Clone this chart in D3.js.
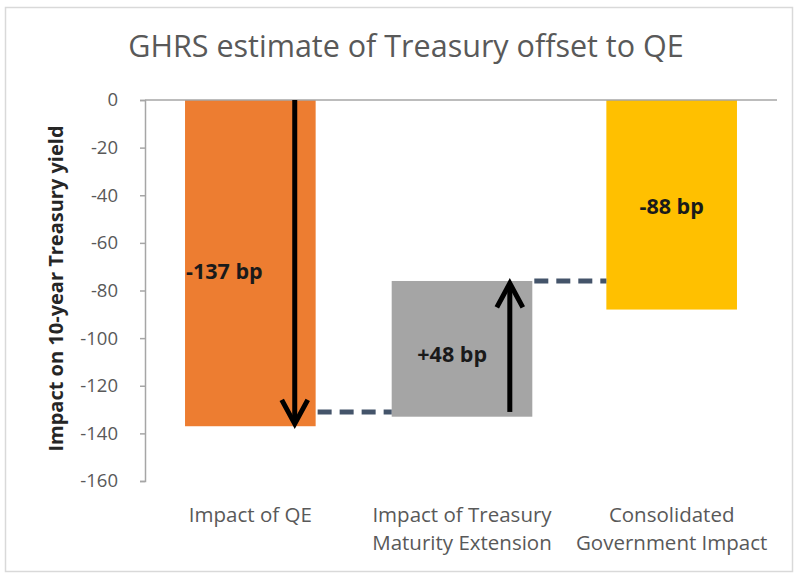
<!DOCTYPE html>
<meta charset="utf-8">
<script src="https://d3js.org/d3.v7.min.js"></script>
<style>
	body{
		margin:0;
		background:#fff;
		font-family: 'Open Sans', sans-serif;
	}
</style>
<div id="chart"></div>
<script>

	// categories and values (bp)
	var categories = ["Impact of QE","Impact of Treasury|Maturity Extension","Consolidated|Government Impact"]
	var barStart = [0,-133,0]
	var barEnd = [-137,-76,-88]
	var barLabels = ["-137 bp","+48 bp","-88 bp"]
	var labelValues = [-75,-110,-48]
	var barColors = ["#ED7D31","#A5A5A5","#FFC000"]
	var yTicks = [0,-20,-40,-60,-80,-100,-120,-140,-160]
	// connectors: [from category, to category, value]
	var connectors = [[0,1,-131],[1,2,-76]]
	// arrows: [category, from, to]
	var arrows = [[0,0,-136],[1,-131,-77]]

	var w = 796
	var h = 576
	var margin = {left:145, right:19, top:100, bottom:95}

	var svg = d3.select("#chart").append("svg").attr("width",w).attr("height",h)

	// outer frame
	svg.append("rect").attr("x",5.5).attr("y",7.5).attr("width",w-9).attr("height",h-12)
		.attr("fill","#fff").attr("stroke","#d9d9d9").attr("stroke-width",1.5)

	svg.append("text").text("GHRS estimate of Treasury offset to QE")
		.attr("x",406).attr("y",57).attr("text-anchor","middle")
		.attr("fill","#595959").style("font-size","30.5px")

	var x = d3.scaleBand().domain(d3.range(categories.length))
		.range([margin.left, w-margin.right]).paddingInner(0.38).paddingOuter(0.19)
	var y = d3.scaleLinear().domain([-160,0]).range([h-margin.bottom, margin.top])

	// y axis
	var yAxis = svg.append("g").attr("transform","translate("+margin.left+",0)")
		.call(d3.axisLeft(y).tickValues(yTicks).tickSize(5).tickPadding(22).tickFormat(function(d){return d}))
	yAxis.select(".domain").attr("stroke","#a6a6a6").attr("stroke-width",1.5)
	yAxis.selectAll(".tick line").attr("stroke","#a6a6a6").attr("stroke-width",1.5)
	yAxis.selectAll(".tick text").attr("fill","#595959").style("font-size","18.5px")
		.style("font-family","'Open Sans', sans-serif")

	svg.append("text").text("Impact on 10-year Treasury yield")
		.attr("transform","translate(63,"+(y(-80)-2)+") rotate(-90)")
		.attr("text-anchor","middle").attr("fill","#262626")
		.style("font-size","20px").style("font-weight","bold")

	// bars (the middle bar is drawn a bit wider, as in the source)
	function barX(i){return i==1 ? x(i)-4 : x(i)}
	function barW(i){return i==1 ? x.bandwidth()+10 : x.bandwidth()}
	svg.append("g").selectAll("rect").data(categories).join("rect")
		.attr("x",function(d,i){return barX(i)})
		.attr("width",function(d,i){return barW(i)})
		.attr("y",function(d,i){return y(Math.max(barStart[i],barEnd[i]))})
		.attr("height",function(d,i){return Math.abs(y(barStart[i])-y(barEnd[i]))})
		.attr("fill",function(d,i){return barColors[i]})

	// zero line
	svg.append("line").attr("x1",margin.left).attr("x2",w-margin.right)
		.attr("y1",y(0)).attr("y2",y(0)).attr("stroke","#a6a6a6").attr("stroke-width",1.5)

	// connectors
	svg.append("g").selectAll("line").data(connectors).join("line")
		.attr("x1",function(d){return barX(d[0])+barW(d[0])+2})
		.attr("x2",function(d){return barX(d[1])})
		.attr("y1",function(d){return y(d[2])})
		.attr("y2",function(d){return y(d[2])})
		.attr("stroke","#44546A").attr("stroke-width",5).attr("stroke-dasharray","14,8")

	// arrows
	function arrowX(i){return barX(i)+barW(i)*0.84}
	var ag = svg.append("g").selectAll("g").data(arrows).join("g")
	ag.append("line")
		.attr("x1",function(d){return arrowX(d[0])})
		.attr("x2",function(d){return arrowX(d[0])})
		.attr("y1",function(d){return y(d[1])})
		.attr("y2",function(d){return y(d[2])+(d[2]<d[1]?-2:2)})
		.attr("stroke","#000").attr("stroke-width",5)
	ag.append("path")
		.attr("d",function(d){
			var cx = arrowX(d[0])
			var ty = y(d[2])
			var dir = d[2]<d[1] ? -1 : 1
			return "M"+(cx-13)+","+(ty+dir*24)+"L"+cx+","+ty+"L"+(cx+13)+","+(ty+dir*24)
		})
		.attr("fill","none").attr("stroke","#000").attr("stroke-width",5)

	// bar labels
	svg.append("g").selectAll("text").data(barLabels).join("text")
		.text(function(d){return d})
		.attr("x",function(d,i){return i==0 ? x(i)+1 : barX(i)+barW(i)*(i==1?0.43:0.5)})
		.attr("y",function(d,i){return y(labelValues[i])})
		.attr("text-anchor",function(d,i){return i==0?"start":"middle"})
		.attr("fill","#1a1a1a").style("font-size","21.5px").style("font-weight","bold")

	// category labels
	var cat = svg.append("g").selectAll("text").data(categories).join("text")
		.attr("x",function(d,i){return barX(i)+barW(i)/2})
		.attr("y",522)
		.attr("text-anchor","middle").attr("fill","#595959").style("font-size","20.5px")
	cat.selectAll("tspan").data(function(d){return d.split("|")}).join("tspan")
		.attr("x",function(){return d3.select(this.parentNode).attr("x")})
		.attr("dy",function(d,i){return i==0?0:28})
		.text(function(d){return d})

</script>
